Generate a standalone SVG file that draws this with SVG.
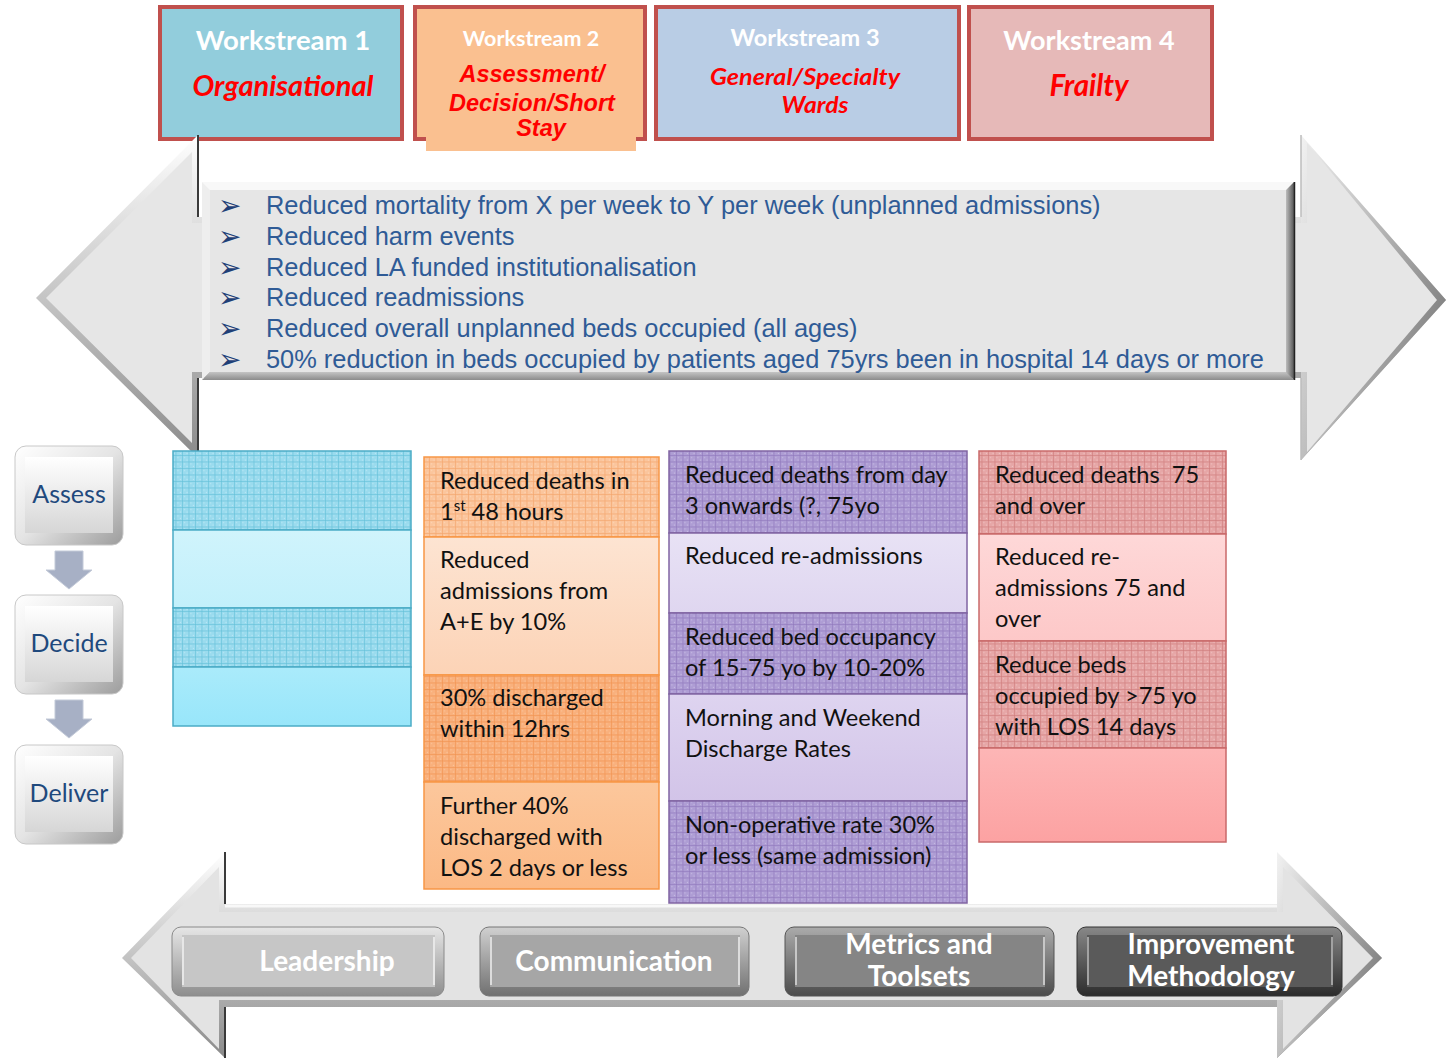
<svg xmlns="http://www.w3.org/2000/svg" width="1446" height="1059" viewBox="0 0 1446 1059">
<defs>
<style>
.wst{font-family:Lato,"Open Sans",sans-serif;font-weight:bold;fill:#fff;text-anchor:middle}
.wss{font-family:Lato,"Open Sans",sans-serif;font-weight:bold;font-style:italic;fill:#f00;text-anchor:middle}
.wsa{font-family:"Liberation Sans",Arial,sans-serif;font-weight:bold;font-style:italic;fill:#f00;text-anchor:middle}
.bul{font-family:"DejaVu Sans",sans-serif;font-size:28px;fill:#1F3F77}
.btxt{font-family:"Liberation Sans",Arial,sans-serif;font-size:25.4px;fill:#2F5B96}
.ctxt{font-family:Lato,"Open Sans",sans-serif;font-size:23.6px;fill:#111}
.step{font-family:Lato,"Open Sans",sans-serif;font-size:25px;fill:#1F497D;text-anchor:middle}
.btn{font-family:Lato,"Open Sans",sans-serif;font-size:28px;font-weight:bold;fill:#fff;text-anchor:middle}
.wsbox{stroke:#C0504D;stroke-width:4}
.cyan{stroke:#4BACC6;stroke-width:1.5}
.orange{stroke:#F79646;stroke-width:1.5}
.purple{stroke:#8064A2;stroke-width:1.5}
.red{stroke:#C9696A;stroke-width:1.5}
</style>
<pattern id="pCyan" width="6.5" height="6.5" patternUnits="userSpaceOnUse">
<rect width="6.5" height="6.5" fill="#9ADBEE"/>
<path d="M0 0.3H6.5M0.3 0V6.5" stroke="#62BFD8" stroke-width="0.7"/>
<rect x="2" y="2" width="1" height="1" fill="#C5ECF7"/><rect x="4.5" y="4.5" width="1" height="1" fill="#C5ECF7"/>
</pattern>
<pattern id="pOrange" width="6.5" height="6.5" patternUnits="userSpaceOnUse">
<rect width="6.5" height="6.5" fill="#FBC59C"/>
<path d="M0 0.3H6.5M0.3 0V6.5" stroke="#F4A468" stroke-width="0.7"/>
<rect x="2" y="2" width="1" height="1" fill="#FDDCC2"/><rect x="4.5" y="4.5" width="1" height="1" fill="#FDDCC2"/>
</pattern>
<pattern id="pOrange2" width="6.5" height="6.5" patternUnits="userSpaceOnUse">
<rect width="6.5" height="6.5" fill="#F9B07C"/>
<path d="M0 0.3H6.5M0.3 0V6.5" stroke="#F0914F" stroke-width="0.7"/>
<rect x="2" y="2" width="1" height="1" fill="#FBCBA5"/><rect x="4.5" y="4.5" width="1" height="1" fill="#FBCBA5"/>
</pattern>
<pattern id="pPurple" width="6.5" height="6.5" patternUnits="userSpaceOnUse">
<rect width="6.5" height="6.5" fill="#AE9DD4"/>
<path d="M0 0.3H6.5M0.3 0V6.5" stroke="#8D77BC" stroke-width="0.7"/>
<rect x="2" y="2" width="1" height="1" fill="#CFC4E8"/><rect x="4.5" y="4.5" width="1" height="1" fill="#CFC4E8"/>
</pattern>
<pattern id="pRed" width="6.5" height="6.5" patternUnits="userSpaceOnUse">
<rect width="6.5" height="6.5" fill="#E6A6A6"/>
<path d="M0 0.3H6.5M0.3 0V6.5" stroke="#CF7B7B" stroke-width="0.7"/>
<rect x="2" y="2" width="1" height="1" fill="#F3CACA"/><rect x="4.5" y="4.5" width="1" height="1" fill="#F3CACA"/>
</pattern>
<linearGradient id="gCyan1" x1="0" y1="0" x2="0" y2="1"><stop offset="0" stop-color="#D0F4FC"/><stop offset="1" stop-color="#C2F0FB"/></linearGradient>
<linearGradient id="gCyan2" x1="0" y1="0" x2="0" y2="1"><stop offset="0" stop-color="#AAEBFB"/><stop offset="1" stop-color="#98E6FA"/></linearGradient>
<linearGradient id="gOr1" x1="0" y1="0" x2="0" y2="1"><stop offset="0" stop-color="#FDE4D2"/><stop offset="1" stop-color="#FCD3B6"/></linearGradient>
<linearGradient id="gOr2" x1="0" y1="0" x2="0" y2="1"><stop offset="0" stop-color="#FCC79C"/><stop offset="1" stop-color="#FBB985"/></linearGradient>
<linearGradient id="gPu1" x1="0" y1="0" x2="0" y2="1"><stop offset="0" stop-color="#E8E2F5"/><stop offset="1" stop-color="#DFD6F0"/></linearGradient>
<linearGradient id="gPu2" x1="0" y1="0" x2="0" y2="1"><stop offset="0" stop-color="#DED4F0"/><stop offset="1" stop-color="#D2C4E8"/></linearGradient>
<linearGradient id="gRe1" x1="0" y1="0" x2="0" y2="1"><stop offset="0" stop-color="#FED8D8"/><stop offset="1" stop-color="#FDC8C8"/></linearGradient>
<linearGradient id="gRe2" x1="0" y1="0" x2="0" y2="1"><stop offset="0" stop-color="#FDB6B6"/><stop offset="1" stop-color="#FCA2A2"/></linearGradient>
<linearGradient id="gArrowTop" gradientUnits="userSpaceOnUse" x1="0" y1="135" x2="0" y2="460"><stop offset="0" stop-color="#FFFFFF"/><stop offset="1" stop-color="#8A8A8A"/></linearGradient>
<linearGradient id="gHeadR" x1="0" y1="0" x2="1" y2="0.6"><stop offset="0" stop-color="#F2F2F2"/><stop offset="1" stop-color="#808080"/></linearGradient>
<linearGradient id="gArrowBot" gradientUnits="userSpaceOnUse" x1="0" y1="852" x2="0" y2="1058"><stop offset="0" stop-color="#FFFFFF"/><stop offset="1" stop-color="#8A8A8A"/></linearGradient>
<linearGradient id="gBoxR" x1="0" y1="0" x2="1" y2="0"><stop offset="0" stop-color="#BDBDBD"/><stop offset="1" stop-color="#555"/></linearGradient>
<linearGradient id="gBoxB" x1="0" y1="0" x2="0" y2="1"><stop offset="0" stop-color="#C4C4C4"/><stop offset="1" stop-color="#8C8C8C"/></linearGradient>
<linearGradient id="gStepOuter" x1="0" y1="0" x2="1" y2="1"><stop offset="0" stop-color="#FFFFFF"/><stop offset="0.5" stop-color="#E4E4E4"/><stop offset="1" stop-color="#9C9C9C"/></linearGradient>
<linearGradient id="gStepFace" x1="0" y1="0" x2="0" y2="1"><stop offset="0" stop-color="#FFFFFF"/><stop offset="1" stop-color="#D6D6D6"/></linearGradient>
<linearGradient id="gB1" x1="0" y1="0" x2="0" y2="1"><stop offset="0" stop-color="#E6E6E6"/><stop offset="1" stop-color="#8E8E8E"/></linearGradient>
<linearGradient id="gB2" x1="0" y1="0" x2="0" y2="1"><stop offset="0" stop-color="#D0D0D0"/><stop offset="1" stop-color="#707070"/></linearGradient>
<linearGradient id="gB3" x1="0" y1="0" x2="0" y2="1"><stop offset="0" stop-color="#ABABAB"/><stop offset="1" stop-color="#4C4C4C"/></linearGradient>
<linearGradient id="gB4" x1="0" y1="0" x2="0" y2="1"><stop offset="0" stop-color="#888888"/><stop offset="1" stop-color="#2C2C2C"/></linearGradient>
</defs>

<rect width="1446" height="1059" fill="#fff"/>

<!-- Workstream headers -->
<g id="ws1">
<rect class="wsbox" x="160" y="7" width="242" height="132" fill="#92CDDC"/>
<text class="wst" x="283" y="50" font-size="27.5">Workstream 1</text>
<text class="wss" x="283" y="96" font-size="29">Organisational</text>
</g>
<g id="ws2">
<rect class="wsbox" x="415" y="7" width="230" height="132" fill="#FAC090"/>
<rect x="426" y="136" width="210" height="15" fill="#FAC090"/>
<text class="wst" x="531" y="46" font-size="21.5">Workstream 2</text>
<text class="wsa" x="532" y="82" font-size="23.5">Assessment/</text>
<text class="wsa" x="532" y="111" font-size="23.5">Decision/Short</text>
<text class="wsa" x="541" y="136" font-size="23.5">Stay</text>
</g>
<g id="ws3">
<rect class="wsbox" x="656" y="7" width="303" height="132" fill="#B9CDE5"/>
<text class="wst" x="805" y="46" font-size="23.5">Workstream 3</text>
<text class="wss" x="805" y="85" font-size="22.5" textLength="190" lengthAdjust="spacingAndGlyphs">General/Specialty</text>
<text class="wss" x="815" y="113" font-size="22.5" textLength="67" lengthAdjust="spacingAndGlyphs">Wards</text>
</g>
<g id="ws4">
<rect class="wsbox" x="969" y="7" width="243" height="132" fill="#E6B9B8"/>
<text class="wst" x="1089" y="50" font-size="27">Workstream 4</text>
<text class="wss" x="1089" y="96" font-size="29.5">Frailty</text>
</g>

<!-- Outcomes double arrow -->
<g id="outcomes">
<path d="M36,298 L198,135 L198,217 L1301,217 L1301,135 L1446,300 L1301,460 L1301,378 L198,378 L198,458 Z" fill="url(#gArrowTop)"/>
<path d="M1301,135 L1446,300 L1301,460 Z" fill="url(#gHeadR)"/>
<path d="M46,298 L192,152 L192,223 L1307,223 L1307,143 L1437,300 L1307,452 L1307,372 L192,372 L192,443 Z" fill="#E6E6E6"/>
<path d="M198,135 V217 M198,378 V458" stroke="#3A3A3A" stroke-width="2"/>
<path d="M1301,135 V217 M1301,378 V460" stroke="#BDBDBD" stroke-width="1.5"/>
<polygon points="202,182 1294,182 1286,190 210,190" fill="#F8F8F8"/>
<polygon points="202,182 210,190 210,372 202,380" fill="#EEEEEE"/>
<polygon points="202,380 210,372 1286,372 1294,380" fill="url(#gBoxB)"/>
<polygon points="1294,182 1294,380 1286,372 1286,190" fill="url(#gBoxR)"/>
<rect x="210" y="190" width="1076" height="182" fill="#E6E6E6"/>
<path d="M1294.5,182 V380" stroke="#222" stroke-width="1.5"/>
<text class="bul" x="218" y="215">➢</text>
<text class="bul" x="218" y="246">➢</text>
<text class="bul" x="218" y="277">➢</text>
<text class="bul" x="218" y="307">➢</text>
<text class="bul" x="218" y="338">➢</text>
<text class="bul" x="218" y="369">➢</text>
<text class="btxt" x="266" y="214">Reduced mortality from X per week to Y per week (unplanned admissions)</text>
<text class="btxt" x="266" y="245">Reduced harm events</text>
<text class="btxt" x="266" y="276">Reduced LA funded institutionalisation</text>
<text class="btxt" x="266" y="306">Reduced readmissions</text>
<text class="btxt" x="266" y="337">Reduced overall unplanned beds occupied (all ages)</text>
<text class="btxt" x="266" y="368">50% reduction in beds occupied by patients aged 75yrs been in hospital 14 days or more</text>
</g>

<!-- Steps -->
<g id="step-assess">
<rect x="15" y="446" width="108" height="99" rx="11" fill="url(#gStepOuter)" stroke="#C8C8C8"/>
<rect x="25" y="457" width="88" height="76" fill="url(#gStepFace)"/>
<text class="step" x="69" y="503">Assess</text>
</g>
<g id="step-decide">
<rect x="15" y="595" width="108" height="99" rx="11" fill="url(#gStepOuter)" stroke="#C8C8C8"/>
<rect x="25" y="606" width="88" height="76" fill="url(#gStepFace)"/>
<text class="step" x="69" y="652">Decide</text>
</g>
<g id="step-deliver">
<rect x="15" y="745" width="108" height="99" rx="11" fill="url(#gStepOuter)" stroke="#C8C8C8"/>
<rect x="25" y="756" width="88" height="76" fill="url(#gStepFace)"/>
<text class="step" x="69" y="802">Deliver</text>
</g>
<g id="connectors">
<path d="M55,551 H83 V570 H92 L69,589 L46,570 H55 Z" fill="#A7B0C5" stroke="#C3CAD8" stroke-width="1"/>
<path d="M55,700 H83 V719 H92 L69,738 L46,719 H55 Z" fill="#A7B0C5" stroke="#C3CAD8" stroke-width="1"/>
</g>

<!-- Column 1 -->
<g id="col1">
<rect class="cyan" x="173" y="451" width="238" height="79" fill="url(#pCyan)"/>
<rect class="cyan" x="173" y="530" width="238" height="78" fill="url(#gCyan1)"/>
<rect class="cyan" x="173" y="608" width="238" height="59" fill="url(#pCyan)"/>
<rect class="cyan" x="173" y="667" width="238" height="59" fill="url(#gCyan2)"/>
</g>

<!-- Column 2 -->
<g id="col2">
<rect class="orange" x="424" y="457" width="235" height="80" fill="url(#pOrange)"/>
<rect class="orange" x="424" y="537" width="235" height="138" fill="url(#gOr1)"/>
<rect class="orange" x="424" y="675" width="235" height="107" fill="url(#pOrange2)"/>
<rect class="orange" x="424" y="782" width="235" height="107" fill="url(#gOr2)"/>
<text class="ctxt" x="440" y="489">Reduced deaths in</text>
<text class="ctxt" x="440" y="520">1<tspan font-size="15" dy="-9">st</tspan><tspan dy="9"> 48 hours</tspan></text>
<text class="ctxt" x="440" y="568">Reduced</text>
<text class="ctxt" x="440" y="599">admissions from</text>
<text class="ctxt" x="440" y="630">A+E by 10%</text>
<text class="ctxt" x="440" y="706">30% discharged</text>
<text class="ctxt" x="440" y="737">within 12hrs</text>
<text class="ctxt" x="440" y="814">Further 40%</text>
<text class="ctxt" x="440" y="845">discharged with</text>
<text class="ctxt" x="440" y="876">LOS 2 days or less</text>
</g>

<!-- Column 3 -->
<g id="col3">
<rect class="purple" x="669" y="451" width="298" height="82" fill="url(#pPurple)"/>
<rect class="purple" x="669" y="533" width="298" height="80" fill="url(#gPu1)"/>
<rect class="purple" x="669" y="613" width="298" height="81" fill="url(#pPurple)"/>
<rect class="purple" x="669" y="694" width="298" height="107" fill="url(#gPu2)"/>
<rect class="purple" x="669" y="801" width="298" height="102" fill="url(#pPurple)"/>
<text class="ctxt" x="685" y="483">Reduced deaths from day</text>
<text class="ctxt" x="685" y="514">3 onwards (?, 75yo</text>
<text class="ctxt" x="685" y="564">Reduced re-admissions</text>
<text class="ctxt" x="685" y="645">Reduced bed occupancy</text>
<text class="ctxt" x="685" y="676">of 15-75 yo by 10-20%</text>
<text class="ctxt" x="685" y="726">Morning and Weekend</text>
<text class="ctxt" x="685" y="757">Discharge Rates</text>
<text class="ctxt" x="685" y="833">Non-operative rate 30%</text>
<text class="ctxt" x="685" y="864">or less (same admission)</text>
</g>

<!-- Column 4 -->
<g id="col4">
<rect class="red" x="979" y="451" width="247" height="83" fill="url(#pRed)"/>
<rect class="red" x="979" y="534" width="247" height="107" fill="url(#gRe1)"/>
<rect class="red" x="979" y="641" width="247" height="107" fill="url(#pRed)"/>
<rect class="red" x="979" y="748" width="247" height="94" fill="url(#gRe2)"/>
<text class="ctxt" x="995" y="483" xml:space="preserve">Reduced deaths  75</text>
<text class="ctxt" x="995" y="514">and over</text>
<text class="ctxt" x="995" y="565">Reduced re-</text>
<text class="ctxt" x="995" y="596">admissions 75 and</text>
<text class="ctxt" x="995" y="627">over</text>
<text class="ctxt" x="995" y="673">Reduce beds</text>
<text class="ctxt" x="995" y="704">occupied by &gt;75 yo</text>
<text class="ctxt" x="995" y="735">with LOS 14 days</text>
</g>

<!-- Enablers arrow -->
<g id="enablers">
<path d="M122,958 L225,852 L225,904 L1277,904 L1277,852 L1382,958 L1277,1058 L1277,1007 L225,1007 L225,1058 Z" fill="url(#gArrowBot)"/>
<path d="M1277,852 L1382,958 L1277,1058 Z" fill="url(#gHeadR)"/>
<path d="M131,958 L219,867 L219,912 L1283,912 L1283,867 L1373,958 L1283,1049 L1283,1000 L219,1000 L219,1049 Z" fill="#E3E3E3"/>
<path d="M225,852 V904 M225,1007 V1058" stroke="#3A3A3A" stroke-width="2"/>
<path d="M225,906 H1277" stroke="#F8F8F8" stroke-width="3"/>
</g>
<g id="btn-leadership">
<rect x="172" y="927" width="272" height="69" rx="9" fill="url(#gB1)" stroke="#8A8A8A"/>
<rect x="182" y="935" width="253" height="52" fill="#C6C6C6"/>
<path d="M183,937 V985 M434,937 V985" stroke="#F2F2F2" stroke-width="1.5"/>
<text class="btn" x="327" y="971">Leadership</text>
</g>
<g id="btn-communication">
<rect x="480" y="927" width="269" height="69" rx="9" fill="url(#gB2)" stroke="#777"/>
<rect x="490" y="935" width="250" height="52" fill="#A6A6A6"/>
<path d="M491,937 V985 M739,937 V985" stroke="#EEEEEE" stroke-width="1.5"/>
<text class="btn" x="614" y="971">Communication</text>
</g>
<g id="btn-metrics">
<rect x="785" y="927" width="269" height="69" rx="9" fill="url(#gB3)" stroke="#555"/>
<rect x="795" y="935" width="250" height="52" fill="#858585"/>
<path d="M796,937 V985 M1044,937 V985" stroke="#DDDDDD" stroke-width="1.5"/>
<text class="btn" x="919" y="954">Metrics and</text>
<text class="btn" x="919" y="986">Toolsets</text>
</g>
<g id="btn-improvement">
<rect x="1077" y="927" width="265" height="69" rx="9" fill="url(#gB4)" stroke="#333"/>
<rect x="1087" y="935" width="246" height="52" fill="#5A5A5A"/>
<path d="M1088,937 V985 M1332,937 V985" stroke="#BBBBBB" stroke-width="1.5"/>
<text class="btn" x="1211" y="954">Improvement</text>
<text class="btn" x="1211" y="986">Methodology</text>
</g>
</svg>
